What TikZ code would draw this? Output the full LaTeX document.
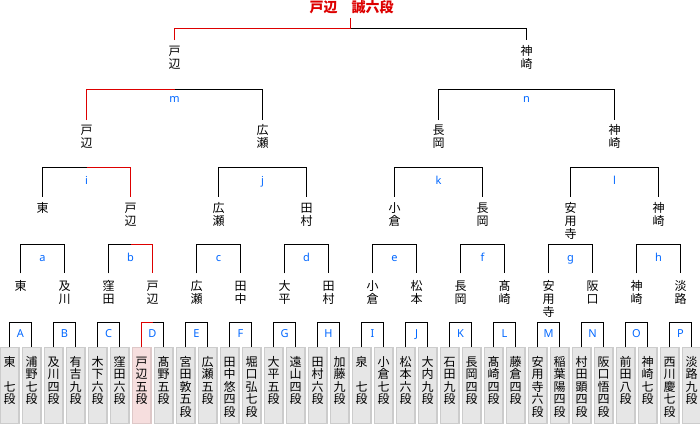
\documentclass[tikz,border=0pt]{standalone}
\usepackage{fontspec}
\newfontfamily\jp{Noto Sans CJK JP}
\newfontfamily\lat{Noto Sans}
\newcommand\vt[1]{\parbox[t]{16pt}{\centering #1}}
\definecolor{wred}{RGB}{221,0,0}
\definecolor{lblue}{RGB}{0,102,255}
\definecolor{bfill}{RGB}{230,230,230}
\definecolor{bdraw}{RGB}{204,204,204}
\definecolor{pfill}{RGB}{246,222,222}
\definecolor{pdraw}{RGB}{222,200,200}
\tikzset{
  ln/.style={draw=black, line width=1pt},
  win/.style={draw=wred, line width=1pt},
  pbox/.style={draw=bdraw, fill=bfill, line width=1.4pt, minimum width=18.6pt,
    inner xsep=0pt, inner ysep=7.6pt, text height=11pt, text depth=49.8pt,
    font=\jp\fontsize{12}{12.5}\selectfont, anchor=north},
  pwin/.style={pbox, fill=pfill, draw=pdraw},
  nm/.style={font=\jp\fontsize{12}{13}\selectfont, inner xsep=0pt,
    text height=11pt, anchor=north},
  nmone/.style={nm, inner ysep=5.8pt},
  nmtwo/.style={nm, inner ysep=4.4pt},
  nmthree/.style={nm, inner ysep=3.6pt},
  nmfour/.style={nm, inner ysep=4.6pt},
  lbl/.style={font=\lat\fontsize{11}{11}\selectfont, text=lblue, anchor=base, inner sep=0pt},
  champ/.style={font=\jp\bfseries\fontsize{14}{14}\selectfont, text=wred, anchor=base, inner sep=0pt}
}
\begin{document}
\begin{tikzpicture}[x=1pt,y=-1pt]
\useasboundingbox (0,0) rectangle (700,424);
% ---------- player boxes ----------
\node[pbox] (p0)  at (9.5,347)   {\vt{東\\　\\七\\段}};
\node[pbox] (p1)  at (31.5,347)  {\vt{浦\\野\\七\\段}};
\node[pbox] (p2)  at (53.5,347)  {\vt{及\\川\\四\\段}};
\node[pbox] (p3)  at (75.5,347)  {\vt{有\\吉\\九\\段}};
\node[pbox] (p4)  at (97.5,347)  {\vt{木\\下\\六\\段}};
\node[pbox] (p5)  at (119.5,347) {\vt{窪\\田\\六\\段}};
\node[pwin] (p6)  at (141.5,347) {\vt{戸\\辺\\五\\段}};
\node[pbox] (p7)  at (163.5,347) {\vt{髙\\野\\五\\段}};
\node[pbox] (p8)  at (185.5,347) {\vt{宮\\田\\敦\\五\\段}};
\node[pbox] (p9)  at (207.5,347) {\vt{広\\瀬\\五\\段}};
\node[pbox] (p10) at (229.5,347) {\vt{田\\中\\悠\\四\\段}};
\node[pbox] (p11) at (251.5,347) {\vt{堀\\口\\弘\\七\\段}};
\node[pbox] (p12) at (273.5,347) {\vt{大\\平\\五\\段}};
\node[pbox] (p13) at (295.5,347) {\vt{遠\\山\\四\\段}};
\node[pbox] (p14) at (317.5,347) {\vt{田\\村\\六\\段}};
\node[pbox] (p15) at (339.5,347) {\vt{加\\藤\\九\\段}};
\node[pbox] (p16) at (361.5,347) {\vt{泉\\　\\七\\段}};
\node[pbox] (p17) at (383.5,347) {\vt{小\\倉\\七\\段}};
\node[pbox] (p18) at (405.5,347) {\vt{松\\本\\六\\段}};
\node[pbox] (p19) at (427.5,347) {\vt{大\\内\\九\\段}};
\node[pbox] (p20) at (449.5,347) {\vt{石\\田\\九\\段}};
\node[pbox] (p21) at (471.5,347) {\vt{長\\岡\\四\\段}};
\node[pbox] (p22) at (493.5,347) {\vt{髙\\崎\\四\\段}};
\node[pbox] (p23) at (515.5,347) {\vt{藤\\倉\\四\\段}};
\node[pbox] (p24) at (537.5,347) {\vt{安\\用\\寺\\六\\段}};
\node[pbox] (p25) at (559.5,347) {\vt{稲\\葉\\陽\\四\\段}};
\node[pbox] (p26) at (581.5,347) {\vt{村\\田\\顕\\四\\段}};
\node[pbox] (p27) at (603.5,347) {\vt{阪\\口\\悟\\四\\段}};
\node[pbox] (p28) at (625.5,347) {\vt{前\\田\\八\\段}};
\node[pbox] (p29) at (647.5,347) {\vt{神\\崎\\七\\段}};
\node[pbox] (p30) at (669.5,347) {\vt{西\\川\\慶\\七\\段}};
\node[pbox] (p31) at (691.5,347) {\vt{淡\\路\\九\\段}};
% ---------- round 1 brackets A-P ----------
\foreach \L [count=\k from 0] in {A,B,C,D,E,F,G,H,I,J,K,L,M,N,O,P}{
  \coordinate (b\L) at ({20.5+44*\k},322.7);
  \node[lbl] (l\L) at ({20.5+44*\k},337) {\L};
}
\draw[ln] (p0.north) |- (bA) -| (p1.north);
\draw[ln] (p2.north) |- (bB) -| (p3.north);
\draw[ln] (p4.north) |- (bC) -| (p5.north);
\draw[win] (p6.north) |- (bD);
\draw[ln] (bD) -| (p7.north);
\draw[ln] (p8.north) |- (bE) -| (p9.north);
\draw[ln] (p10.north) |- (bF) -| (p11.north);
\draw[ln] (p12.north) |- (bG) -| (p13.north);
\draw[ln] (p14.north) |- (bH) -| (p15.north);
\draw[ln] (p16.north) |- (bI) -| (p17.north);
\draw[ln] (p18.north) |- (bJ) -| (p19.north);
\draw[ln] (p20.north) |- (bK) -| (p21.north);
\draw[ln] (p22.north) |- (bL) -| (p23.north);
\draw[ln] (p24.north) |- (bM) -| (p25.north);
\draw[ln] (p26.north) |- (bN) -| (p27.north);
\draw[ln] (p28.north) |- (bO) -| (p29.north);
\draw[ln] (p30.north) |- (bP) -| (p31.north);
% ---------- level 1 names ----------
\node[nmone] (nA) at (20.5,273.3)  {\vt{東}};
\node[nmone] (nB) at (64.5,273.3)  {\vt{及\\川}};
\node[nmone] (nC) at (108.5,273.3) {\vt{窪\\田}};
\node[nmone] (nD) at (152.5,273.3) {\vt{戸\\辺}};
\node[nmone] (nE) at (196.5,273.3) {\vt{広\\瀬}};
\node[nmone] (nF) at (240.5,273.3) {\vt{田\\中}};
\node[nmone] (nG) at (284.5,273.3) {\vt{大\\平}};
\node[nmone] (nH) at (328.5,273.3) {\vt{田\\村}};
\node[nmone] (nI) at (372.5,273.3) {\vt{小\\倉}};
\node[nmone] (nJ) at (416.5,273.3) {\vt{松\\本}};
\node[nmone] (nK) at (460.5,273.3) {\vt{長\\岡}};
\node[nmone] (nL) at (504.5,273.3) {\vt{髙\\崎}};
\node[nmone] (nM) at (548.5,273.3) {\vt{安\\用\\寺}};
\node[nmone] (nN) at (592.5,273.3) {\vt{阪\\口}};
\node[nmone] (nO) at (636.5,273.3) {\vt{神\\崎}};
\node[nmone] (nP) at (680.5,273.3) {\vt{淡\\路}};
% ---------- round 2 brackets a-h ----------
\foreach \L [count=\k from 0] in {a,b,c,d,e,f,g,h}{
  \coordinate (b\L) at ({42.5+88*\k},244.3);
  \node[lbl] (l\L) at ({42.5+88*\k},261.5) {\L};
}
\draw[ln] (nA.north) |- (ba) -| (nB.north);
\draw[ln] (nC.north) |- (bb);
\draw[win] (bb) -| (nD.north);
\draw[ln] (nE.north) |- (bc) -| (nF.north);
\draw[ln] (nG.north) |- (bd) -| (nH.north);
\draw[ln] (nI.north) |- (be) -| (nJ.north);
\draw[ln] (nK.north) |- (bf) -| (nL.north);
\draw[ln] (nM.north) |- (bg) -| (nN.north);
\draw[ln] (nO.north) |- (bh) -| (nP.north);
% ---------- level 2 names ----------
\node[nmtwo] (na) at (42.5,196.7)  {\vt{東}};
\node[nmtwo] (nb) at (130.5,196.7) {\vt{戸\\辺}};
\node[nmtwo] (nc) at (218.5,196.7) {\vt{広\\瀬}};
\node[nmtwo] (nd) at (306.5,196.7) {\vt{田\\村}};
\node[nmtwo] (ne) at (394.5,196.7) {\vt{小\\倉}};
\node[nmtwo] (nf) at (482.5,196.7) {\vt{長\\岡}};
\node[nmtwo] (ng) at (570.5,196.7) {\vt{安\\用\\寺}};
\node[nmtwo] (nh) at (658.5,196.7) {\vt{神\\崎}};
% ---------- round 3 brackets i-l ----------
\foreach \L [count=\k from 0] in {i,j,k,l}{
  \coordinate (b\L) at ({86.5+176*\k},167.3);
  \node[lbl] (l\L) at ({86.5+176*\k},184) {\L};
}
\draw[ln] (na.north) |- (bi);
\draw[win] (bi) -| (nb.north);
\draw[ln] (nc.north) |- (bj) -| (nd.north);
\draw[ln] (ne.north) |- (bk) -| (nf.north);
\draw[ln] (ng.north) |- (bl) -| (nh.north);
% ---------- level 3 names ----------
\node[nmthree] (ni) at (86.5,120)  {\vt{戸\\辺}};
\node[nmthree] (nj) at (262.5,120) {\vt{広\\瀬}};
\node[nmthree] (nk) at (438.5,120) {\vt{長\\岡}};
\node[nmthree] (nl) at (614.5,120) {\vt{神\\崎}};
% ---------- semifinal brackets m, n ----------
\coordinate (bm) at (174.5,89.3);
\coordinate (bn) at (526.5,89.3);
\node[lbl] (lm) at (174.5,102) {m};
\node[lbl] (ln) at (526.5,102) {n};
\draw[win] (ni.north) |- (bm);
\draw[ln] (bm) -| (nj.north);
\draw[ln] (nk.north) |- (bn) -| (nl.north);
% ---------- level 4 names ----------
\node[nmfour] (nm) at (174.5,40) {\vt{戸\\辺}};
\node[nmfour] (nn) at (526.5,40) {\vt{神\\崎}};
% ---------- final ----------
\coordinate (fin) at (350.5,28.3);
\coordinate (stub) at (350.5,18.3);
\node[champ] (champion) at (351.7,12.8) {戸辺　誠六段};
\draw[win] (nm.north) |- (fin) -- (stub);
\draw[ln] (fin) -| (nn.north);
\end{tikzpicture}
\end{document}
